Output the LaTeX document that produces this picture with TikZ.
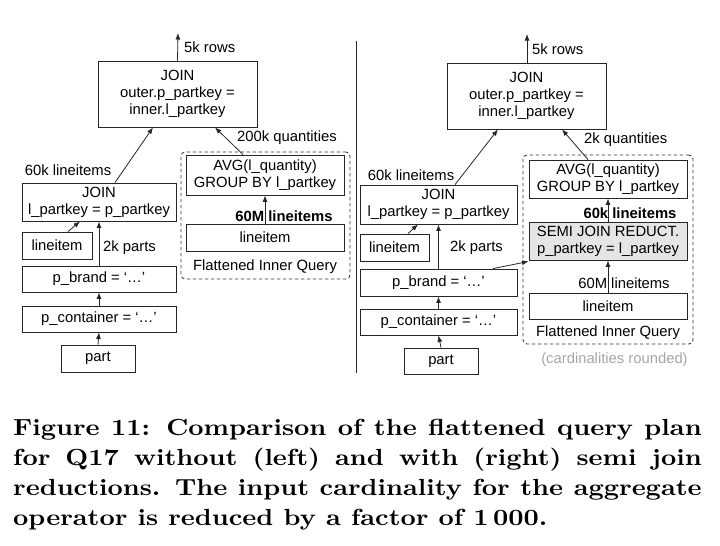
\documentclass[tikz,border=0pt]{standalone}
\usepackage{fontspec}
\newfontfamily\diag{Liberation Sans}
\newfontfamily\capfont[Extension=.otf]{lmroman10-bold}
\usetikzlibrary{arrows.meta,calc}
\tikzset{
  box/.style={draw=black!85, line width=0.85pt, inner sep=0pt, align=center,
    font=\diag\fontsize{14.8}{17}\selectfont},
  lab/.style={inner sep=0pt, font=\diag\fontsize{14.8}{17}\selectfont},
  blab/.style={inner sep=0pt, font=\diag\bfseries\fontsize{14.8}{17}\selectfont},
  arr/.style={draw=black!85, line width=0.8pt, -{Latex[length=6.5pt,width=5pt]}},
  grp/.style={draw=black!80, line width=0.85pt, dashed, dash pattern=on 3.5pt off 2.5pt, rounded corners=4pt, inner sep=0pt},
  capline/.style={anchor=base west, inner sep=0pt, font=\capfont\fontsize{23.3}{30}\selectfont}
}
\begin{document}
\begin{tikzpicture}[x=1pt,y=-1pt]
\useasboundingbox (0,0) rectangle (720,546);
% divider
\coordinate (dtop) at (356,41);
\coordinate (dbot) at (356,373);
\draw[black!85, line width=0.9pt] (dtop) -- (dbot);

% ===== LEFT =====
\node[grp, minimum width=169pt, minimum height=127pt] (dashL) at (265.5,215.5) {};
\node[box, minimum width=159pt, minimum height=66pt] (tjL) at (177.5,94) {JOIN\\outer.p\_partkey =\\inner.l\_partkey};
\node[box, minimum width=154pt, minimum height=38pt] (ljL) at (99,202) {JOIN\\l\_partkey = p\_partkey};
\node[box, minimum width=70pt, minimum height=27pt] (liL) at (57,245.5) {lineitem};
\node[box, minimum width=154pt, minimum height=26pt] (pbL) at (99,279) {p\_brand = ‘…’};
\node[box, minimum width=154pt, minimum height=26pt] (pcL) at (99,319) {p\_container = ‘…’};
\node[box, minimum width=74pt, minimum height=27pt] (ptL) at (98,358.5) {part};
\node[box, minimum width=158pt, minimum height=40pt] (avgL) at (265,175) {AVG(l\_quantity)\\GROUP BY l\_partkey};
\node[box, minimum width=158pt, minimum height=27pt] (iliL) at (265,237.5) {lineitem};
\node[lab] (fiqL) at (265,267) {Flattened Inner Query};
\coordinate (outL) at (178,33);

\draw[arr] (tjL.north) -- (outL);
\node[lab, anchor=west] (rowsL) at (184,47) {5k rows};
\draw[arr] ([xshift=16pt]ljL.north) -- ([xshift=-24.5pt]tjL.south);
\node[lab] (l60L) at (68,170) {60k lineitems};
\draw[arr] ([xshift=-22pt]avgL.north) -- ([xshift=37.5pt]tjL.south);
\node[lab, anchor=west] (qL) at (237,138) {200k quantities};
\draw[arr] (iliL.north) -- (avgL.south);
\node[blab] (m60L) at (284,216) {60M lineitems};
\draw[arr] ([xshift=11pt]liL.north) -- ([xshift=-19pt]ljL.south);
\draw[arr] (pbL.north) -- (ljL.south);
\node[lab, anchor=west] (kpL) at (103,248) {2k parts};
\draw[arr] (pcL.north) -- (pbL.south);
\draw[arr] (ptL.north) -- (pcL.south);

% ===== RIGHT =====
\node[grp, minimum width=170pt, minimum height=189pt] (dashR) at (608,249.5) {};
\node[box, minimum width=159pt, minimum height=66pt] (tjR) at (526.5,96) {JOIN\\outer.p\_partkey =\\inner.l\_partkey};
\node[box, minimum width=157pt, minimum height=39pt] (ljR) at (438.5,204.5) {JOIN\\l\_partkey = p\_partkey};
\node[box, minimum width=69pt, minimum height=27pt] (liR) at (394.5,247.5) {lineitem};
\node[box, minimum width=157pt, minimum height=27pt] (pbR) at (438.5,282.5) {p\_brand = ‘…’};
\node[box, minimum width=157pt, minimum height=26pt] (pcR) at (438.5,322) {p\_container = ‘…’};
\node[box, minimum width=74pt, minimum height=26pt] (ptR) at (441,361) {part};
\node[box, minimum width=158pt, minimum height=38pt] (avgR) at (608,179) {AVG(l\_quantity)\\GROUP BY l\_partkey};
\node[box, fill=black!10, minimum width=158pt, minimum height=38pt] (sjR) at (608,241) {SEMI JOIN REDUCT.\\p\_partkey = l\_partkey};
\node[box, minimum width=158pt, minimum height=26pt] (iliR) at (608,306) {lineitem};
\node[lab] (fiqR) at (608,333) {Flattened Inner Query};
\node[lab, text=black!35] (cardR) at (614.5,360) {(cardinalities rounded)};
\coordinate (outR) at (527,34);

\draw[arr] ([xshift=0.5pt]tjR.north) -- (outR);
\node[lab, anchor=west] (rowsR) at (532,49) {5k rows};
\draw[arr] ([xshift=16.5pt]ljR.north) -- ([xshift=-28.5pt]tjR.south);
\node[lab] (l60R) at (411,175) {60k lineitems};
\draw[arr] ([xshift=-20pt]avgR.north) -- ([xshift=35.5pt]tjR.south);
\node[lab, anchor=west] (qR) at (584,140) {2k quantities};
\draw[arr] (sjR.north) -- (avgR.south);
\node[blab] (k60R) at (630,213) {60k lineitems};
\draw[arr] (iliR.north) -- (sjR.south);
\node[lab] (m60R) at (624,283) {60M lineitems};
\draw[arr] ([xshift=13.5pt]liR.north) -- ([xshift=-20.5pt]ljR.south);
\draw[arr] (pbR.north) -- (ljR.south);
\node[lab, anchor=west] (kpR) at (450,248) {2k parts};
\draw[arr] ([xshift=54.5pt]pbR.north) -- ([yshift=-1pt]sjR.south west);
\draw[arr] (pcR.north) -- (pbR.south);
\draw[arr] (ptR.north) -- (pcR.south);

% ===== CAPTION =====
\node[capline] (cap1) at (13,435) {\scalebox{1.14}[1]{\makebox[604pt][s]{Figure 11: Comparison of the flattened query plan}}};
\node[capline] (cap2) at (13,465) {\scalebox{1.14}[1]{\makebox[604pt][s]{for Q17 without (left) and with (right) semi join}}};
\node[capline] (cap3) at (13,495) {\scalebox{1.14}[1]{\makebox[604pt][s]{reductions. The input cardinality for the aggregate}}};
\node[capline] (cap4) at (13,525) {\scalebox{1.14}[1]{operator is reduced by a factor of 1\,000.}};
\end{tikzpicture}
\end{document}
